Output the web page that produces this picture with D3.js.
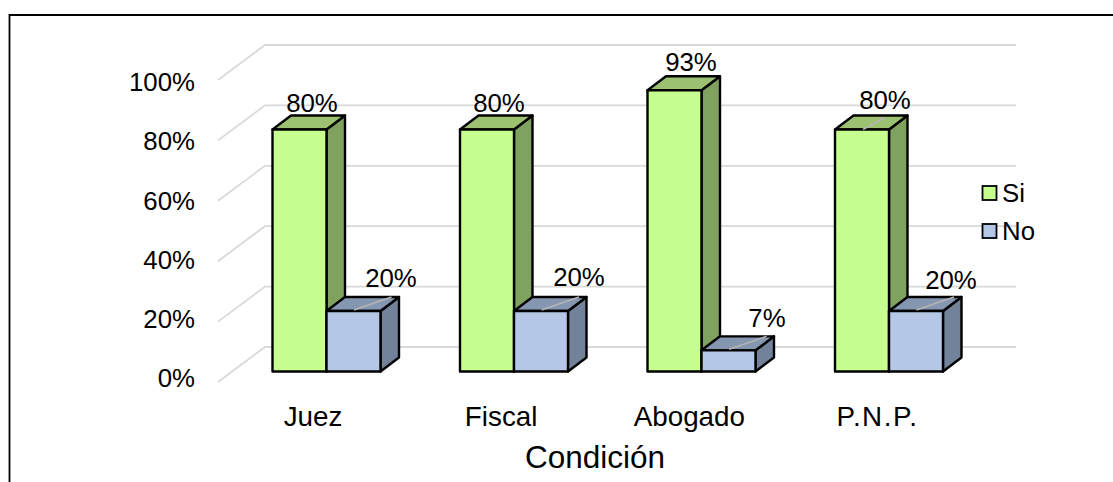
<!DOCTYPE html>
<html>
<head>
<meta charset="utf-8">
<script src="https://cdn.jsdelivr.net/npm/d3@7/dist/d3.min.js"></script>
<style>
html,body{margin:0;padding:0;background:#fff;overflow:hidden}
text{font-family:"Liberation Sans",Arial,sans-serif;fill:#000}
</style>
</head>
<body>
<svg id="c" width="1113" height="482"></svg>
<script>
const categories = ["Juez","Fiscal","Abogado","P.N.P."];
const seriesNames = ["Si","No"];
const si = [80,80,93,80];
const no = [20,20,7,20];
const gridTicks = [0,20,40,60,80,100];
const axisTitle = "Condición";

const fills = {
  Si:{front:"#C6FF8F",side:"#7FA35F",top:"#9CC170"},
  No:{front:"#B4C7E7",side:"#72829A",top:"#8496B0"}
};
// label nudges from the top-centre of each bar
const labelNudge = {
  Si:[[12.5,-26.5],[12,-26.5],[16.5,-28],[23,-29.5]],
  No:[[37.5,-33],[38,-34],[38.5,-32],[35,-31]]
};

const svg = d3.select("#c");
const bw = 54, dx = 18.5, dy = -14;
const x = d3.scaleLinear().domain([0,3]).range([272.5,835]);
const y = d3.scaleLinear().domain([0,100]).range([371.5,69]);
const gridFront = d3.scaleLinear().domain([0,100]).range([382,80]);
const gridBack = d3.scaleLinear().domain([0,100]).range([347,45]);
const FF = '"Liberation Sans",Arial,sans-serif';

// frame
svg.append("path").attr("d","M9.5,482V15H1113").attr("fill","none").attr("stroke","#000").attr("stroke-width",1.8);

// gridlines
svg.append("g").selectAll("path").data(gridTicks).join("path")
  .attr("d",d=>`M218,${gridFront(d)}L265,${gridBack(d)}H1016`)
  .attr("fill","none").attr("stroke","#D9D9D9").attr("stroke-width",1.8);

// y axis labels
const yLab = d3.scaleLinear().domain([0,100]).range([378.5,82.5]);
const ya = svg.append("g").attr("transform","translate(195,0)")
  .call(d3.axisLeft(yLab).tickValues(gridTicks).tickSize(0).tickPadding(0).tickFormat(d=>d+"%"));
ya.select(".domain").remove();
ya.selectAll("text").style("font-size","25.8px").style("font-family",FF).attr("fill","#000");

// x axis labels
const xLab = d3.scalePoint().domain(categories).range([312.5,877]);
const xa = svg.append("g").attr("transform","translate(0,416)")
  .call(d3.axisBottom(xLab).tickSize(0).tickPadding(0));
xa.select(".domain").remove();
xa.selectAll("text").attr("dy","0.35em").attr("y",0).style("font-size","27.8px").style("font-family",FF).attr("fill","#000")
  .style("letter-spacing",d=>d==="P.N.P."?"1.5px":null);

// bars
function bar(g,x0,val,c){
  const t=y(val),b=y(0),x1=x0+bw;
  const st={stroke:"#000","stroke-width":2.4,"stroke-linejoin":"round"};
  const add=(d,f)=>{const p=g.append("path").attr("d",d).attr("fill",f);for(const k in st)p.attr(k,st[k]);};
  add(`M${x1},${t}L${x1+dx},${t+dy}V${b+dy}L${x1},${b}Z`,c.side);
  add(`M${x0},${t}L${x0+dx},${t+dy}H${x1+dx}L${x1},${t}Z`,c.top);
  add(`M${x0},${t}H${x1}V${b}H${x0}Z`,c.front);
}
const bars = svg.append("g");
categories.forEach((cat,i)=>{
  bar(bars,x(i),si[i],fills.Si);
  bar(bars,x(i)+bw,no[i],fills.No);
});

// faint leader lines over the bar tops
const leader = svg.append("g").attr("stroke","#B5B5B5").attr("stroke-width",1.5);
categories.forEach((cat,i)=>{
  const tn=y(no[i]);
  leader.append("line").attr("x1",x(i)+bw+27.5).attr("y1",tn-1).attr("x2",x(i)+bw+65).attr("y2",tn-14);
});
leader.append("line").attr("x1",x(3)+28).attr("y1",y(si[3])).attr("x2",x(3)+50).attr("y2",y(si[3])-12);

// data labels
const lab = svg.append("g").attr("text-anchor","middle").style("font-size","25.8px");
categories.forEach((cat,i)=>{
  [["Si",si[i],x(i)],["No",no[i],x(i)+bw]].forEach(([s,v,x0])=>{
    const n=labelNudge[s][i];
    lab.append("text").attr("x",x0+bw/2+n[0]).attr("y",y(v)+n[1]).attr("dy","0.35em").text(v+"%");
  });
});

// legend
const legY = d3.scalePoint().domain(seriesNames).range([193,231]);
const leg = svg.append("g");
seriesNames.forEach(s=>{
  leg.append("rect").attr("x",982.5).attr("y",legY(s)-7).attr("width",14).attr("height",14)
    .attr("fill",fills[s].front).attr("stroke","#000").attr("stroke-width",1.8);
  leg.append("text").attr("x",1002).attr("y",legY(s)).attr("dy","0.35em").style("font-size","25.8px").text(s);
});

// axis title
svg.append("text").attr("x",595).attr("y",457).attr("dy","0.35em").attr("text-anchor","middle")
  .style("font-size","31.5px").text(axisTitle);
</script>
</body>
</html>
